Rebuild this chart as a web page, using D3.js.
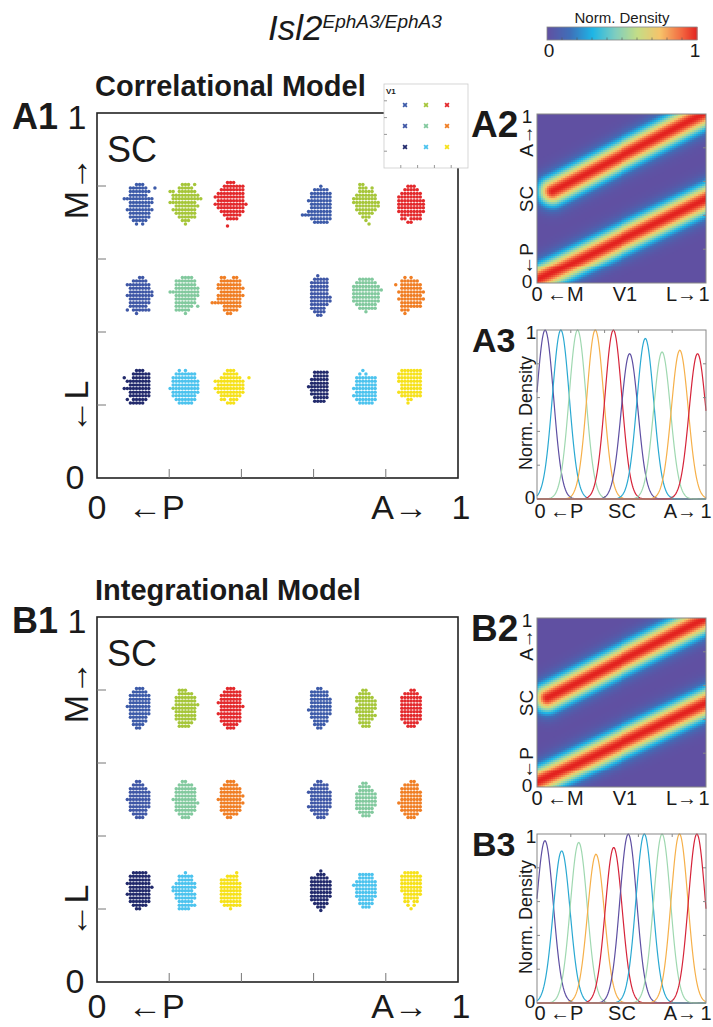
<!DOCTYPE html>
<html>
<head>
<meta charset="utf-8">
<script src="https://cdn.jsdelivr.net/npm/d3@7"></script>
<style>
  body { margin: 0; background: #fff; }
  text { font-family: "Liberation Sans", Arial, sans-serif; fill: #1a1a1a; }
</style>
</head>
<body>
<div id="fig"></div>
<script>
// ---- data ----
const clusterColors = ['#3d5ba9', '#a6c63a', '#e3292c', '#3f57a6', '#82c99e', '#f07e24', '#222a6c', '#4cc3ee', '#f6e11a'];
const clusterCols = [0.118, 0.245, 0.37, 0.62, 0.745, 0.87];   // SC P->A
const clusterRows = [0.75, 0.5, 0.25];                          // SC M->L
const insetCols = [0.25, 0.5, 0.75];
const insetRows = [0.75, 0.5, 0.25];

// dot rows of each cluster (top to bottom), spans of grid columns around the centre
const shapesA = [
  [[[-1,1]],[[-3,2],[5,5]],[[-3,3]],[[-3,2]],[[-5,4]],[[-3,4]],[[-3,3]],[[-4,4]],[[-3,3]],[[-3,3]],[[-2,2]],[[-1,-1],[1,1]]],
  [[[-1,1],[3,3]],[[-2,2]],[[-5,-4],[-2,3]],[[-4,4]],[[-4,5]],[[-5,3]],[[-3,4]],[[-4,3]],[[-3,3]],[[-2,3]],[[-1,1]],[[0,0]]],
  [[[-1,1]],[[-2,4]],[[-3,4]],[[-4,4]],[[-5,4]],[[-4,4]],[[-5,5]],[[-4,4]],[[-3,4]],[[-2,3]],[[-1,2]],[],[[-1,-1]]],
  [[[0,0]],[[-2,2]],[[-3,3]],[[-3,3]],[[-4,3]],[[-3,3]],[[-3,3]],[[-4,3]],[[-6,3]],[[-3,3]],[[-2,2]]],
  [[[-2,-1]],[[-2,0],[2,2]],[[-2,2]],[[-3,3]],[[-4,3]],[[-4,4]],[[-3,4]],[[-3,3]],[[-2,2]],[[-1,1]],[[0,0]],[[1,1]]],
  [[[-1,1]],[[-2,2]],[[-3,3]],[[-4,3]],[[-4,4]],[[-4,4]],[[-4,4]],[[-4,4]],[[-3,3]],[[-3,-2],[0,3]],[[-1,0]]],
  [[[0,1]],[[-2,2]],[[-4,3]],[[-3,3]],[[-3,4]],[[-4,4]],[[-3,3]],[[-3,3]],[[-3,2]],[[-4,-4],[-2,3]],[[-1,-1]]],
  [[[-1,2]],[[-3,3]],[[-3,3]],[[-3,4]],[[-5,4]],[[-3,4]],[[-3,3]],[[-3,3]],[[-3,2],[4,4]],[[-3,1]],[[0,0]]],
  [[[-3,-2],[1,2]],[[-3,3]],[[-4,3]],[[-4,4]],[[-3,3]],[[-4,4]],[[-4,3]],[[-6,3]],[[-2,3]],[[-2,2]],[[-1,0]]],
  [[[-1,-1]],[[-2,0],[1,2]],[[-3,2]],[[-3,2]],[[-3,2]],[[-3,2]],[[-3,3]],[[-3,3]],[[-3,2]],[[-3,1]],[[-2,1]],[[-1,0]]],
  [[[-2,2]],[[-3,3]],[[-4,4]],[[-4,5]],[[-4,4]],[[-4,4]],[[-4,4]],[[-3,3]],[[-2,3]],[[0,0]]],
  [[[-2,-2],[0,0]],[[-3,2]],[[-5,-5],[-3,3]],[[-3,3]],[[-4,4]],[[-3,3]],[[-4,4]],[[-3,3]],[[-3,3]],[[-3,-1]],[[-2,-2]]],
  [[[-1,1]],[[-2,3]],[[-5,-5],[-2,3]],[[-4,3]],[[-3,3]],[[-5,3]],[[-3,3]],[[-3,3]],[[-4,-4],[-2,2]],[[-3,1]]],
  [[[-2,-2],[0,0]],[[-3,3]],[[-4,3]],[[-4,4]],[[-4,4]],[[-5,4]],[[-4,4]],[[-4,3]],[[-3,3]],[[-2,2]]],
  [[[-1,1]],[[-2,2]],[[-3,3],[6,6]],[[-5,4]],[[-4,4]],[[-5,4]],[[-4,4]],[[-3,3]],[[-3,-2],[0,2]],[[-1,1]]],
  [[[-2,2]],[[-2,2]],[[-3,2]],[[-3,2]],[[-4,2]],[[-3,2]],[[-3,2]],[[-2,2]],[[-2,1]]],
  [[[-1,-1]],[[-2,-2],[0,0]],[[-3,3]],[[-3,3]],[[-3,3]],[[-4,3]],[[-3,3]],[[-4,3]],[[-3,3]],[[-2,2]]],
  [[[-3,3]],[[-4,3]],[[-4,3]],[[-4,3]],[[-3,3]],[[-3,3]],[[-4,3]],[[-3,3]],[[-1,0]],[[-1,-1]]]
];
const shapesB = [
  [[[-1,1]],[[-2,2]],[[-3,3]],[[-3,3]],[[-3,3]],[[-4,3]],[[-3,3]],[[-3,3]],[[-3,2]],[[-2,2]],[[-2,1]],[[-1,0]]],
  [[[-2,0]],[[-2,2]],[[-3,3]],[[-3,3]],[[-3,4]],[[-4,3]],[[-3,3]],[[-3,3]],[[-3,3]],[[-2,2]],[[-2,1]]],
  [[[-1,1]],[[-2,3]],[[-3,3]],[[-3,3]],[[-4,3]],[[-3,4]],[[-3,3]],[[-4,3]],[[-3,3]],[[-3,3]],[[-2,2]],[[-1,1]]],
  [[[-1,0]],[[-3,2]],[[-3,2]],[[-3,3]],[[-3,3]],[[-3,3]],[[-4,3]],[[-3,3]],[[-3,2]],[[-2,2]],[[-2,1]],[[-1,0]]],
  [[[-1,0]],[[-2,1]],[[-3,2]],[[-3,3]],[[-2,3]],[[-3,3]],[[-3,2]],[[-2,3]],[[-2,2]],[[-2,1]],[[-1,1]]],
  [[[0,1]],[[-2,2]],[[-3,3]],[[-3,3]],[[-3,3]],[[-3,3]],[[-3,3]],[[-3,3]],[[-3,3]],[[-2,2]],[[-1,1]]],
  [[[-1,0]],[[-2,1]],[[-3,2]],[[-3,3]],[[-3,3]],[[-4,3]],[[-3,3]],[[-3,3]],[[-3,2]],[[-2,2]],[[-1,1]]],
  [[[-1,0]],[[-2,2]],[[-3,3]],[[-3,3]],[[-3,3]],[[-4,3]],[[-3,4]],[[-3,3]],[[-3,3]],[[-2,2]],[[-1,1]]],
  [[[-1,1]],[[-2,2]],[[-3,3]],[[-3,3]],[[-3,4]],[[-4,3]],[[-3,4]],[[-3,3]],[[-3,3]],[[-2,2]],[[-1,0]]],
  [[[-1,0]],[[-2,2]],[[-3,2]],[[-4,3]],[[-3,3]],[[-3,3]],[[-3,3]],[[-4,3]],[[-3,2]],[[-2,2]],[[-1,1]]],
  [[[-1,0]],[[-2,1]],[[-2,2]],[[-3,3]],[[-3,3]],[[-3,3]],[[-3,3]],[[-3,2]],[[-2,2]],[[-1,1]]],
  [[[0,1]],[[-2,2]],[[-3,2]],[[-3,3]],[[-3,3]],[[-3,3]],[[-4,3]],[[-3,3]],[[-3,3]],[[-2,2]],[[-1,1]]],
  [[[-2,2]],[[-3,3]],[[-3,3]],[[-4,3]],[[-3,4]],[[-3,3]],[[-4,3]],[[-3,3]],[[-3,3]],[[-2,2]],[[-1,0]]],
  [[[0,0]],[[-2,2]],[[-2,2]],[[-3,3]],[[-4,3]],[[-4,2]],[[-3,3]],[[-3,3]],[[-2,2]],[[-2,3]],[[-2,1]]],
  [[[2,2]],[[-1,2]],[[-3,2]],[[-3,3]],[[-3,3]],[[-3,3]],[[-3,3]],[[-3,3]],[[-3,3]],[[-2,3]],[[0,0]]],
  [[[0,0]],[[-1,1]],[[-3,2]],[[-3,3]],[[-3,3]],[[-3,3]],[[-3,3]],[[-3,3]],[[-3,2]],[[-2,2]],[[-1,1]],[[0,0]]],
  [[[-2,2]],[[-2,2]],[[-3,3]],[[-4,3]],[[-3,3]],[[-3,3]],[[-3,3]],[[-2,2]],[[-2,2]],[[-1,1]]],
  [[[-2,2]],[[-3,3]],[[-3,3]],[[-3,3]],[[-3,3]],[[-3,3]],[[-2,3]],[[-2,2]],[[-2,-1],[1,2]],[[-1,-1],[1,1]],[[0,0]]]
];

// density map: bands as segments [v1 start, sc start, v1 end, sc end]
const bandsA2 = [[0.09, 0.545, 1.1, 1.06], [-0.1, -0.028, 1.1, 0.548]];
const bandsB2 = [[0.06, 0.53, 1.1, 1.05], [-0.1, -0.017, 1.1, 0.547]];
const bandWidth = 0.058;

// colormap
const cmapStops = [0, 0.15, 0.3, 0.45, 0.6, 0.75, 0.9, 1];
const cmapColors = ['#6050a2', '#3f6fb8', '#1db5e6', '#7dcdc0', '#c4dd86', '#f6c36a', '#f2653f', '#e3211f'];

// density curves along SC
const peaksA3 = [0.048, 0.141, 0.240, 0.345, 0.452, 0.548, 0.641, 0.740, 0.845, 0.950];
const heightsA3 = [1, 1, 1, 1, 1, 0.86, 0.95, 0.87, 0.88, 0.86];
const peaksB3 = [0.047, 0.146, 0.247, 0.349, 0.454, 0.540, 0.635, 0.740, 0.843, 0.946];
const heightsB3 = [0.96, 0.90, 0.95, 0.88, 0.92, 1, 1, 1, 1, 1];
const curveWidth = 0.05;
const curveColors = ['#5e4fa2', '#2aa9d2', '#9fd8b0', '#f6b04a', '#d6243a'];

const ticks = [0.2, 0.4, 0.6, 0.8];

// ---- drawing ----
const W = 713, H = 1027;
const svg = d3.select("#fig").append("svg")
    .attr("width", W).attr("height", H)
    .style("background", "#fff");

const cmap = d3.scaleLinear().domain(cmapStops).range(cmapColors).interpolate(d3.interpolateRgb);

function txt(g, s, x, y, size, opts = {}) {
    const t = g.append("text")
        .attr("x", x).attr("y", y)
        .attr("font-size", size)
        .attr("text-anchor", opts.anchor || "start")
        .attr("font-weight", opts.bold ? "bold" : "normal")
        .attr("font-style", opts.italic ? "italic" : "normal")
        .text(s);
    if (opts.rot) t.attr("transform", `rotate(-90,${x},${y})`);
    return t;
}

function frameTicks(g, x, y, len, color, sides) {
    ticks.forEach(v => {
        if (sides.includes("l")) g.append("line").attr("x1", x.range()[0]).attr("x2", x.range()[0] + len).attr("y1", y(v)).attr("y2", y(v)).attr("stroke", color);
        if (sides.includes("r")) g.append("line").attr("x1", x.range()[1]).attr("x2", x.range()[1] - len).attr("y1", y(v)).attr("y2", y(v)).attr("stroke", color);
        if (sides.includes("b")) g.append("line").attr("x1", x(v)).attr("x2", x(v)).attr("y1", y.range()[0]).attr("y2", y.range()[0] - len).attr("stroke", color);
        if (sides.includes("t")) g.append("line").attr("x1", x(v)).attr("x2", x(v)).attr("y1", y.range()[1]).attr("y2", y.range()[1] + len).attr("stroke", color);
    });
}

// title and colorbar
const head = svg.append("g");
const title = txt(head, "Isl2", 268, 40, 35, { italic: true });
title.append("tspan").attr("font-size", 19).attr("dy", -12).text("EphA3/EphA3");

const cb = d3.scaleLinear().domain([0, 1]).range([547, 697]);
head.selectAll(".cb").data(d3.range(0, 1, 1 / 150)).join("rect")
    .attr("x", d => cb(d)).attr("y", 27)
    .attr("width", cb(1 / 150) - cb(0) + 0.5).attr("height", 13)
    .attr("fill", d => cmap(d));
head.append("rect").attr("x", cb(0)).attr("y", 27).attr("width", cb(1) - cb(0)).attr("height", 13)
    .attr("fill", "none").attr("stroke", "#888").attr("stroke-width", 0.8);
head.selectAll(".cbt").data(d3.range(0.1, 1, 0.1)).join("line")
    .attr("x1", d => cb(d)).attr("x2", d => cb(d)).attr("y1", 40).attr("y2", 37.5)
    .attr("stroke", "#555").attr("stroke-width", 0.6);
txt(head, "Norm. Density", 622, 23, 15, { anchor: "middle" });
txt(head, "0", 549, 57, 19, { anchor: "middle" });
txt(head, "1", 695, 57, 19, { anchor: "middle" });

function drawPanel(dy, p) {
    const g = svg.append("g").attr("transform", `translate(0,${dy})`);

    // --- scatter on SC ---
    const x = d3.scaleLinear().domain([0, 1]).range([97, 458]);
    const y = d3.scaleLinear().domain([0, 1]).range([478, 113]);
    const dx = 0.0085, dyStep = 0.0099;

    txt(g, p.title, 95, 96, 29, { bold: true });
    txt(g, p.label1, 12, 129, 36, { bold: true });

    g.append("rect").attr("x", x(0)).attr("y", y(1)).attr("width", x(1) - x(0)).attr("height", y(0) - y(1))
        .attr("fill", "none").attr("stroke", "#222").attr("stroke-width", 1.6);
    frameTicks(g, x, y, 9, "#777", "lb");

    txt(g, "SC", 107, 162, 36);
    txt(g, "1", 77, 129, 34, { anchor: "middle" });
    txt(g, "0", 75, 489, 34, { anchor: "middle" });
    txt(g, "M\u2192", 88, 188, 34, { anchor: "middle", rot: true });
    txt(g, "\u2190L", 88, 407, 34, { anchor: "middle", rot: true });
    txt(g, "0", 97, p.xLabelY, 34, { anchor: "middle" });
    txt(g, "\u2190P", 128, p.xLabelY, 34);
    txt(g, "A\u2192", 428, p.xLabelY, 34, { anchor: "end" });
    txt(g, "1", 461, p.xLabelY, 34, { anchor: "middle" });

    const dots = [];
    p.shapes.forEach((rows, k) => {
        const r = Math.floor(k / 6), c = k % 6;
        const cx = clusterCols[c], cy = clusterRows[r];
        const color = clusterColors[r * 3 + (c % 3)];
        rows.forEach((spans, i) => {
            const vy = cy + ((rows.length - 1) / 2 - i) * dyStep;
            spans.forEach(([lo, hi]) => {
                for (let j = lo; j <= hi; j++) dots.push({ x: cx + j * dx, y: vy, color });
            });
        });
    });
    g.append("g").selectAll("circle").data(dots).join("circle")
        .attr("cx", d => x(d.x)).attr("cy", d => y(d.y)).attr("r", 1.75)
        .attr("fill", d => d.color);

    // inset legend (V1 positions)
    if (p.inset) {
        const ix = d3.scaleLinear().domain([0, 1]).range([384, 468]);
        const iy = d3.scaleLinear().domain([0, 1]).range([168, 84]);
        const ig = g.append("g");
        ig.append("rect").attr("x", ix(0)).attr("y", iy(1)).attr("width", ix(1) - ix(0)).attr("height", iy(0) - iy(1))
            .attr("fill", "#fff").attr("stroke", "#ccc").attr("stroke-width", 0.8);
        frameTicks(ig, ix, iy, 3, "#999", "lb");
        txt(ig, "V1", 386, 94, 8, { bold: true });
        const marks = [];
        insetRows.forEach((ry, r) => insetCols.forEach((rx, c) => marks.push({ x: rx, y: ry, color: clusterColors[r * 3 + c] })));
        ig.selectAll("path").data(marks).join("path")
            .attr("d", d3.symbol(d3.symbolCross, 16))
            .attr("transform", d => `translate(${ix(d.x)},${iy(d.y)}) rotate(45)`)
            .attr("fill", d => d.color);
    }

    // --- density map V1 -> SC ---
    const hx = d3.scaleLinear().domain([0, 1]).range([537, 706]);
    const hy = d3.scaleLinear().domain([0, 1]).range([283, 114]);
    const N = 85;
    const segDist = (px, py, b) => {
        const vx = b[2] - b[0], vy = b[3] - b[1];
        let t = ((px - b[0]) * vx + (py - b[1]) * vy) / (vx * vx + vy * vy);
        t = Math.max(0, Math.min(1, t));
        const ex = px - (b[0] + t * vx), ey = py - (b[1] + t * vy);
        return Math.sqrt(ex * ex + ey * ey);
    };
    const cells = [];
    for (let i = 0; i < N; i++) for (let j = 0; j < N; j++) {
        const px = (i + 0.5) / N, py = (j + 0.5) / N;
        const v = d3.max(p.bands, b => Math.exp(-Math.pow(segDist(px, py, b), 2) / (2 * bandWidth * bandWidth)));
        cells.push({ i, j, v });
    }
    g.append("g").selectAll("rect").data(cells).join("rect")
        .attr("x", d => hx(d.i / N)).attr("y", d => hy((d.j + 1) / N))
        .attr("width", hx(1 / N) - hx(0) + 0.4).attr("height", hy(0) - hy(1 / N) + 0.4)
        .attr("fill", d => cmap(d.v))
        .attr("shape-rendering", "crispEdges");
    g.append("rect").attr("x", hx(0)).attr("y", hy(1)).attr("width", hx(1) - hx(0)).attr("height", hy(0) - hy(1))
        .attr("fill", "none").attr("stroke", "#888").attr("stroke-width", 1);
    frameTicks(g, hx, hy, 3, "#888", "r");

    txt(g, p.label2, 471, 137, 37, { bold: true });
    txt(g, "1", 527, 123, 19, { anchor: "middle" });
    txt(g, "0", 527, 288, 19, { anchor: "middle" });
    txt(g, "A\u2192", 533, 141, 19, { anchor: "middle", rot: true });
    txt(g, "SC", 533, 199, 19, { anchor: "middle", rot: true });
    txt(g, "\u2190P", 533, 259, 19, { anchor: "middle", rot: true });
    txt(g, "0", 537, 301, 20, { anchor: "middle" });
    txt(g, "\u2190M", 547, 301, 20);
    txt(g, "V1", 625, 301, 20, { anchor: "middle" });
    txt(g, "L\u2192", 697, 301, 20, { anchor: "end" });
    txt(g, "1", 704, 301, 20, { anchor: "middle" });

    // --- density curves along SC ---
    const cx = d3.scaleLinear().domain([0, 1]).range([537, 706]);
    const cy = d3.scaleLinear().domain([0, 1]).range([499, 330]);
    const xs = d3.range(0, 1.0001, 0.004);
    const curves = p.peaks.map((m, k) => ({
        color: curveColors[k % 5],
        pts: xs.map(v => [v, p.heights[k] * Math.exp(-Math.pow(v - m, 2) / (2 * curveWidth * curveWidth))])
    }));
    const line = d3.line().x(d => cx(d[0])).y(d => cy(d[1]));
    g.append("g").selectAll("path").data(curves).join("path")
        .attr("d", d => line(d.pts))
        .attr("fill", "none").attr("stroke", d => d.color).attr("stroke-width", 1.2);
    g.append("rect").attr("x", cx(0)).attr("y", cy(1)).attr("width", cx(1) - cx(0)).attr("height", cy(0) - cy(1))
        .attr("fill", "none").attr("stroke", "#888").attr("stroke-width", 1);
    frameTicks(g, cx, cy, 3, "#888", "lrbt");

    txt(g, p.label3, 472, 352, 34, { bold: true });
    txt(g, "1", 531, 339, 19, { anchor: "middle" });
    txt(g, "0", 530, 504, 19, { anchor: "middle" });
    txt(g, "Norm. Density", 532, 413, 18, { anchor: "middle", rot: true });
    txt(g, "0", 540, p.smallLabelY, 20, { anchor: "middle" });
    txt(g, "\u2190P", 550, p.smallLabelY, 20);
    txt(g, "SC", 622, p.smallLabelY, 20, { anchor: "middle" });
    txt(g, "A\u2192", 697, p.smallLabelY, 20, { anchor: "end" });
    txt(g, "1", 706, p.smallLabelY, 20, { anchor: "middle" });
}

drawPanel(0, {
    title: "Correlational Model", label1: "A1", label2: "A2", label3: "A3",
    shapes: shapesA, bands: bandsA2, peaks: peaksA3, heights: heightsA3, inset: true,
    xLabelY: 519, smallLabelY: 518
});
drawPanel(504, {
    title: "Integrational Model", label1: "B1", label2: "B2", label3: "B3",
    shapes: shapesB, bands: bandsB2, peaks: peaksB3, heights: heightsB3, inset: false,
    xLabelY: 514, smallLabelY: 516
});
</script>
</body>
</html>
